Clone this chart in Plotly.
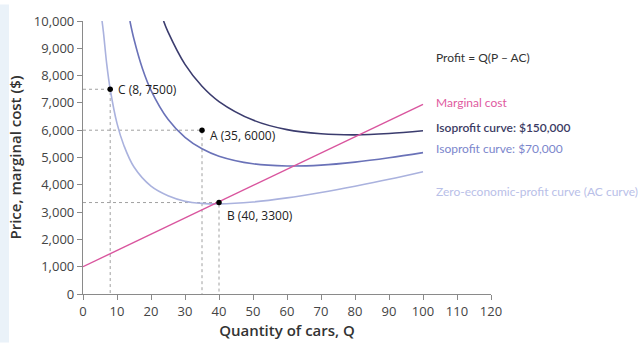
import plotly.graph_objects as go

# Data
mc_q = [0, 100]
mc_p = [1000, 6950]

ac_q = [5.6, 6, 7, 8, 10, 12, 15, 20, 25, 30, 35, 40, 50, 60, 70, 80, 90, 100]
ac_p = [10000, 9600, 8400, 7500, 6250, 5450, 4650, 3950, 3600, 3400, 3320, 3300, 3370, 3520, 3720, 3950, 4200, 4480]

iso70_q = [13.8, 15, 17.5, 20, 25, 30, 35, 40, 50, 60, 70, 80, 90, 100]
iso70_p = [10000, 9330, 8250, 7460, 6400, 5740, 5320, 5050, 4770, 4690, 4720, 4830, 4990, 5180]

iso150_q = [23.7, 25, 30, 35, 40, 50, 60, 70, 80, 90, 100]
iso150_p = [10000, 9600, 8410, 7610, 7050, 6370, 6020, 5870, 5830, 5880, 5980]

pt_names = ["C (8, 7500)", "A (35, 6000)", "B (40, 3300)"]
pt_q = [8, 35, 40]
pt_p = [7500, 6000, 3350]

label_texts = ["Profit = Q(P \u2013 AC)", "Marginal cost", "Isoprofit curve: $150,000",
               "Isoprofit curve: $70,000", "Zero-economic-profit curve (AC curve)"]

c_mc = "#d9559e"
c_150 = "#3b3c6e"
c_70 = "#6a72b8"
c_ac = "#aab2de"

fig = go.Figure()

# dashed guide lines
for q, p in zip(pt_q, pt_p):
    fig.add_trace(go.Scatter(x=[0, q, q], y=[p, p, 0], mode="lines",
                             line=dict(color="#a0a0a0", width=1, dash="3px,3px"),
                             hoverinfo="skip", showlegend=False))

fig.add_trace(go.Scatter(x=ac_q, y=ac_p, mode="lines", line=dict(color=c_ac, width=1.6, shape="spline"),
                         showlegend=False))
fig.add_trace(go.Scatter(x=iso70_q, y=iso70_p, mode="lines", line=dict(color=c_70, width=1.6, shape="spline"),
                         showlegend=False))
fig.add_trace(go.Scatter(x=iso150_q, y=iso150_p, mode="lines", line=dict(color=c_150, width=1.6, shape="spline"),
                         showlegend=False))
fig.add_trace(go.Scatter(x=mc_q, y=mc_p, mode="lines", line=dict(color=c_mc, width=1.4),
                         showlegend=False))

fig.add_trace(go.Scatter(x=pt_q, y=pt_p, mode="markers", marker=dict(color="black", size=5.5),
                         showlegend=False))

# point labels
yshifts = [0, -5, -13]
for name, q, p, ys in zip(pt_names, pt_q, pt_p, yshifts):
    fig.add_annotation(x=q, y=p, text=name, showarrow=False, xanchor="left", yanchor="middle",
                       xshift=6, yshift=ys,
                       font=dict(family="Open Sans", size=12, color="#222"))

# right-side labels
label_y = [8650, 7010, 6085, 5340, 3740]
label_col = ["#333333", "#e05aa0", "#3c3c64", "#7b86cc", "#b9c0e8"]
label_w = [400, 400, 600, 400, 400]
for t, yv, col, w in zip(label_texts, label_y, label_col, label_w):
    fig.add_annotation(x=103.3, y=yv, text=t, showarrow=False, xanchor="left", yanchor="middle",
                       font=dict(family="Lato", size=12, color=col, weight=w))

axis_common = dict(showgrid=False, zeroline=False, showline=True, linecolor="#8a8a8a", linewidth=1.2,
                   ticks="outside", tickcolor="#8a8a8a", ticklen=5, tickwidth=1.2,
                   tickfont=dict(family="Open Sans", size=13, color="#444"))

fig.update_xaxes(range=[0, 120], dtick=10, title=dict(text="Quantity of cars, Q",
                 font=dict(family="Open Sans", size=15, color="#333", weight=600), standoff=6),
                 **axis_common)
fig.update_yaxes(range=[0, 10000], dtick=1000, tickformat=",d",
                 title=dict(text="Price, marginal cost ($)",
                            font=dict(family="Open Sans", size=15, color="#333", weight=600), standoff=8),
                 **axis_common)

fig.update_layout(width=643, height=348, margin=dict(l=83, r=152, t=17, b=50),
                  paper_bgcolor="white", plot_bgcolor="white")

fig.add_shape(type="rect", xref="paper", yref="paper", x0=-83/408, x1=-74/408, y0=-50/281, y1=1+17/281,
              fillcolor="#eaf2f9", line=dict(width=0), layer="below")

fig.write_html("out.html")
